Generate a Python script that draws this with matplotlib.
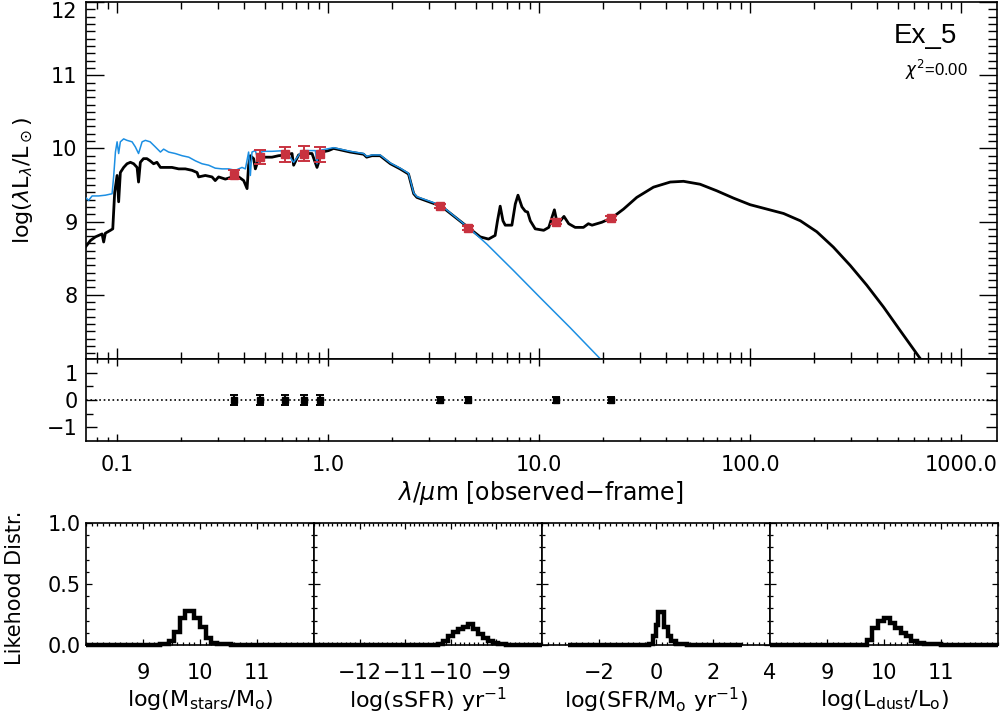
import matplotlib
matplotlib.use('Agg')
import matplotlib.pyplot as plt
from matplotlib.ticker import FixedLocator, FixedFormatter, MultipleLocator, LogLocator, NullFormatter

plt.rcParams['font.family'] = ['DejaVu Sans']
plt.rcParams['mathtext.fontset'] = 'dejavusans'

# ---------------- data ----------------
# total (attenuated + dust) model SED, wavelength in micron, log(lambda L_lambda / Lsun)
total_wl = [0.0705, 0.0745, 0.0787, 0.0846, 0.0861, 0.0877, 0.0927, 0.0951, 0.0971, 0.0997,
            0.1014, 0.1033, 0.1071, 0.1111, 0.1153, 0.1195, 0.124, 0.126, 0.1285, 0.133,
            0.138, 0.143, 0.1485, 0.154, 0.160, 0.1687, 0.1815, 0.1953, 0.210, 0.226,
            0.2387, 0.2428, 0.2612, 0.281, 0.291, 0.302, 0.325, 0.350, 0.376, 0.397,
            0.412, 0.419, 0.427, 0.4426, 0.451, 0.4677, 0.5026, 0.5408, 0.581, 0.625,
            0.673, 0.685, 0.723, 0.778, 0.837, 0.884, 0.933, 1.003, 1.059, 1.10,
            1.27, 1.47, 1.52, 1.61, 1.76, 1.97, 2.19, 2.40, 2.54, 2.63,
            3.43, 4.65, 5.25, 5.75, 6.18, 6.34, 6.53, 6.73, 6.90, 7.42,
            7.70, 7.93, 8.28, 8.59, 8.81, 9.07, 9.57, 10.5, 11.1, 11.5,
            11.8, 12.1, 12.6, 13.1, 13.8, 14.8, 16.2, 17.1, 17.8, 19.8,
            22.1, 25.1, 29.0, 34.8, 41.8, 48.3, 57.9, 69.5, 83.4, 100,
            120, 144, 173, 207, 248, 298, 357, 429, 514, 617, 700]
total_logL = [8.65, 8.74, 8.79, 8.83, 8.72, 8.84, 8.88, 8.90, 9.40, 9.63,
              9.27, 9.67, 9.74, 9.79, 9.81, 9.79, 9.74, 9.54, 9.81, 9.86,
              9.86, 9.83, 9.79, 9.81, 9.74, 9.74, 9.74, 9.72, 9.72, 9.70,
              9.67, 9.61, 9.63, 9.61, 9.56, 9.61, 9.58, 9.61, 9.61, 9.56,
              9.45, 9.77, 9.90, 9.86, 9.72, 9.86, 9.88, 9.88, 9.90, 9.91,
              9.93, 9.77, 9.91, 9.93, 9.93, 9.74, 9.95, 9.97, 10.0, 9.99,
              9.95, 9.92, 9.88, 9.90, 9.90, 9.79, 9.72, 9.65, 9.38, 9.33,
              9.21, 8.91, 8.79, 8.76, 8.81, 9.01, 9.21, 9.01, 8.95, 8.95,
              9.24, 9.36, 9.20, 9.14, 9.13, 9.01, 8.90, 8.88, 8.92, 9.06,
              9.16, 9.01, 9.01, 9.07, 8.97, 8.92, 8.92, 8.97, 8.95, 8.99,
              9.05, 9.17, 9.33, 9.47, 9.54, 9.55, 9.51, 9.42, 9.32, 9.23,
              9.17, 9.11, 9.01, 8.86, 8.65, 8.40, 8.13, 7.83, 7.51, 7.19, 6.97]

# unattenuated stellar SED
stellar_wl = [0.0705, 0.0731, 0.0759, 0.0815, 0.0877, 0.0944, 0.0961, 0.0979, 0.0997, 0.1014,
              0.1033, 0.1071, 0.1111, 0.1174, 0.1217, 0.126, 0.131, 0.1358, 0.143, 0.1514,
              0.160, 0.1657, 0.175, 0.188, 0.2027, 0.218, 0.2344, 0.252, 0.271, 0.291,
              0.3135, 0.337, 0.3625, 0.390, 0.4045, 0.419, 0.427, 0.4347, 0.451, 0.4677,
              0.485, 0.5408, 0.625, 0.685, 0.7507, 0.868, 0.884, 0.900, 1.059, 1.10,
              1.27, 1.47, 1.52, 1.61, 1.76, 1.97, 2.19, 2.40, 2.54, 2.63,
              3.43, 4.65, 5.65, 6.53, 7.55, 10.1, 14.0, 19.5, 20.6]
stellar_logL = [9.33, 9.29, 9.35, 9.35, 9.36, 9.38, 9.63, 9.95, 10.09, 9.93,
                10.09, 10.13, 10.11, 10.09, 10.02, 9.93, 10.09, 10.11, 10.09, 10.02,
                9.95, 9.99, 9.95, 9.93, 9.90, 9.88, 9.83, 9.79, 9.77, 9.73,
                9.72, 9.72, 9.70, 9.74, 9.72, 9.95, 9.63, 9.95, 9.97, 9.81,
                9.96, 9.96, 9.97, 9.81, 9.97, 9.97, 9.79, 9.97, 10.01, 10.0,
                9.96, 9.93, 9.89, 9.91, 9.91, 9.80, 9.73, 9.66, 9.39, 9.34,
                9.22, 8.91, 8.69, 8.51, 8.33, 7.96, 7.55, 7.12, 6.98]

# photometry (ugriz + WISE)
phot_wl = [0.356, 0.477, 0.625, 0.765, 0.915, 3.4, 4.6, 12.0, 22.0]
phot_logL = [9.64, 9.88, 9.92, 9.93, 9.92, 9.21, 8.91, 9.00, 9.05]
phot_err = [0.065, 0.10, 0.10, 0.10, 0.10, 0.03, 0.03, 0.03, 0.03]
resid = [0, 0, 0, 0, 0, 0, 0, 0, 0]
resid_err = [0.18, 0.18, 0.18, 0.18, 0.18, 0.10, 0.10, 0.10, 0.10]

wl_ticks = [0.1, 1.0, 10.0, 100.0, 1000.0]
wl_ticklabels = ['0.1', '1.0', '10.0', '100.0', '1000.0']

# likelihood distributions
mstar_edges = [8.0, 9.3, 9.46, 9.55, 9.65, 9.74, 9.82, 9.90, 10.0, 10.1, 10.2, 10.3, 10.55, 12.0]
mstar_vals = [0, 0.005, 0.03, 0.11, 0.22, 0.28, 0.28, 0.22, 0.15, 0.06, 0.02, 0.005, 0]
ssfr_edges = [-13.0, -10.29, -10.18, -10.07, -9.96, -9.85, -9.74, -9.63, -9.52, -9.41,
              -9.30, -9.19, -9.08, -8.97, -8.80, -8.0]
ssfr_vals = [0, 0.005, 0.03, 0.07, 0.11, 0.13, 0.145, 0.17, 0.13, 0.09, 0.06, 0.03, 0.015, 0.005, 0]
sfr_edges = [-3.1, -0.35, -0.23, -0.12, 0.0, 0.08, 0.18, 0.29, 0.41, 0.53, 0.70, 1.1, 3.0]
sfr_vals = [0, 0.004, 0.012, 0.07, 0.16, 0.27, 0.27, 0.15, 0.07, 0.03, 0.008, 0]
ldust_edges = [8.0, 9.5, 9.70, 9.79, 9.89, 10.0, 10.1, 10.2, 10.29, 10.39, 10.48, 10.58, 10.7, 11.0, 12.0]
ldust_vals = [0, 0.003, 0.04, 0.14, 0.20, 0.22, 0.18, 0.14, 0.10, 0.07, 0.03, 0.015, 0.005, 0]

# ---------------- figure ----------------
fig = plt.figure(figsize=(10.0, 7.17), dpi=100)
L, W = 0.086, 0.911
ax = fig.add_axes([L, 0.4993, W, 0.4977])
axr = fig.add_axes([L, 0.385, W, 0.1143])

red = '#C8323F'
blue = '#1C8FE3'

ax.plot(total_wl, total_logL, color='k', lw=2.0, zorder=2)
ax.plot(stellar_wl, stellar_logL, color=blue, lw=1.1, zorder=3)
ax.errorbar(phot_wl, phot_logL, yerr=phot_err, fmt='s', color=red, ms=6, mec=red,
            capsize=4, elinewidth=1.4, capthick=1.4, zorder=5)

xlim = (0.071, 1480)
for a in (ax, axr):
    a.set_xscale('log')
    a.set_xlim(*xlim)
    a.xaxis.set_major_locator(FixedLocator(wl_ticks))
    a.xaxis.set_minor_locator(LogLocator(base=10, subs=[2, 3, 4, 5, 6, 7, 8, 9], numticks=20))
    a.xaxis.set_minor_formatter(NullFormatter())
    for s in a.spines.values():
        s.set_linewidth(1.2)

ax.set_ylim(7.12, 12.0)
ax.yaxis.set_major_locator(FixedLocator([8, 9, 10, 11, 12]))
ax.yaxis.set_minor_locator(MultipleLocator(0.1))
ax.tick_params(axis='both', which='both', direction='in', top=True, right=True,
               labelbottom=False, labelsize=15, width=1.0)
ax.tick_params(axis='x', which='major', length=8)
ax.tick_params(axis='x', which='minor', length=5)
ax.tick_params(axis='y', which='major', length=13, pad=6)
ax.tick_params(axis='y', which='minor', length=6.5)
ax.set_ylabel(r'log($\lambda$L$_\lambda$/L$_\odot$)', fontsize=16, va='center')
ax.yaxis.set_label_coords(-0.069, 0.5)
# keep the top label inside the figure
ax.yaxis.get_major_ticks()[-1].label1.set_va('top')

ax.text(0.956, 0.905, 'Ex_5', transform=ax.transAxes, ha='right', va='center',
        fontsize=20, family=['Liberation Sans', 'DejaVu Sans'])
ax.text(0.968, 0.81, r'$\chi^2$=0.00', transform=ax.transAxes, ha='right', va='center',
        fontsize=12, family=['Liberation Sans', 'DejaVu Sans'])

# residuals
axr.axhline(0, color='k', ls=':', lw=1.2, zorder=1)
axr.errorbar(phot_wl, resid, yerr=resid_err, fmt='s', color='k', ms=5,
             capsize=3, elinewidth=1.4, capthick=1.4, zorder=3)
axr.set_ylim(-1.5, 1.5)
axr.yaxis.set_major_locator(FixedLocator([-1, 0, 1]))
axr.yaxis.set_minor_locator(FixedLocator([-0.5, 0.5]))
axr.xaxis.set_major_formatter(FixedFormatter(wl_ticklabels))
axr.tick_params(axis='both', which='both', direction='in', top=True, right=True,
                labelsize=15, width=1.0)
axr.tick_params(axis='x', which='major', length=5, pad=10)
axr.tick_params(axis='x', which='minor', length=3)
axr.tick_params(axis='y', which='major', length=8, pad=6)
axr.tick_params(axis='y', which='minor', length=5)
axr.set_xlabel(r'$\lambda/\mu$m [observed$-$frame]', fontsize=17, va='center')
axr.xaxis.set_label_coords(0.498, -0.634)

# likelihood panels
panels = [
    (mstar_edges, mstar_vals, (8, 12), [9, 10, 11], r'log(M$_{\rm stars}$/M$_{\rm o}$)', 0.1),
    (ssfr_edges, ssfr_vals, (-13, -8), [-12, -11, -10, -9], r'log(sSFR) yr$^{-1}$', 0.1),
    (sfr_edges, sfr_vals, (-4, 4), [-2, 0, 2, 4], r'log(SFR/M$_{\rm o}$ yr$^{-1}$)', 0.2),
    (ldust_edges, ldust_vals, (8, 12), [9, 10, 11], r'log(L$_{\rm dust}$/L$_{\rm o}$)', 0.1),
]
pw = (0.998 - L) / 4
for i, (edges, vals, xl, xt, lab, mn) in enumerate(panels):
    a = fig.add_axes([L + i * pw, 0.1004, pw, 0.1702])
    a.stairs(vals, edges, color='k', lw=3.2, clip_on=False, zorder=3)
    a.set_xlim(*xl)
    a.set_ylim(0, 1.0)
    a.xaxis.set_major_locator(FixedLocator(xt))
    a.xaxis.set_minor_locator(MultipleLocator(mn))
    a.yaxis.set_major_locator(FixedLocator([0.0, 0.5, 1.0]))
    a.yaxis.set_minor_locator(MultipleLocator(0.1))
    a.tick_params(axis='both', which='both', direction='in', top=True, right=True,
                  labelsize=15, width=0.9)
    a.tick_params(axis='both', which='major', length=4)
    a.tick_params(axis='both', which='minor', length=2)
    a.tick_params(axis='x', which='major', pad=13)
    for s in a.spines.values():
        s.set_linewidth(1.2)
    if i == 0:
        a.yaxis.set_major_formatter(FixedFormatter(['0.0', '0.5', '1.0']))
        a.set_ylabel('Likehood Distr.', fontsize=15, va='center')
        a.yaxis.set_label_coords(-0.31, 0.467)
    else:
        a.tick_params(axis='y', labelleft=False)
    a.set_xlabel(lab, fontsize=16, va='center')
    a.xaxis.set_label_coords(0.5, -0.45)

fig.savefig('out.png', dpi=100)
